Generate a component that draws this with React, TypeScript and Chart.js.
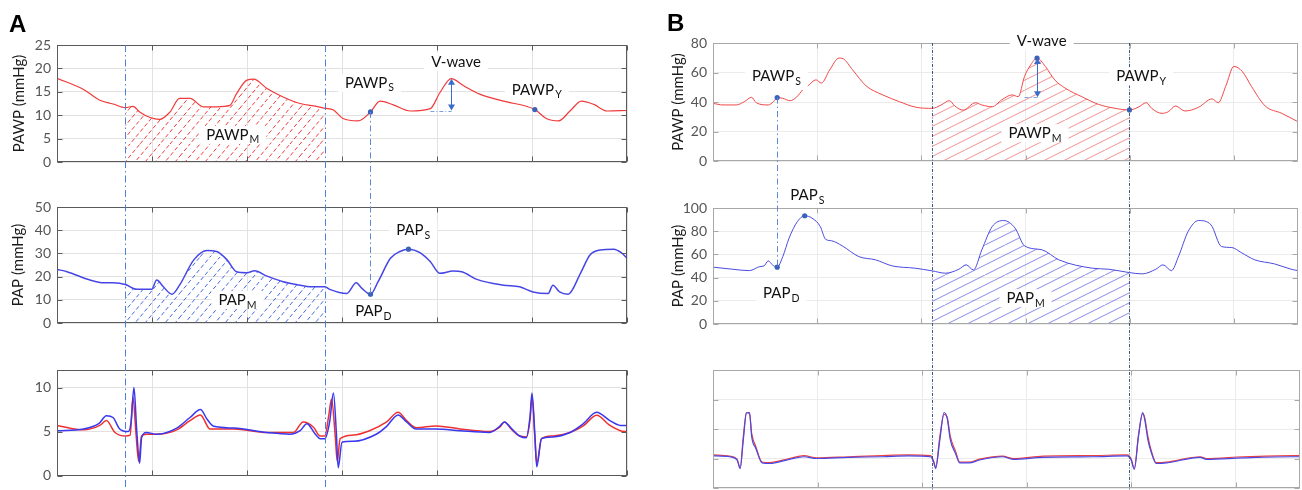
import React, { useEffect, useRef } from "react";
import { Chart, registerables } from "chart.js";

Chart.register(...registerables);

type Pt = [number, number | null];

// ---------------- Panel A data ----------------
const aPawp: Pt[] = [
  [0, 17.9], [0.28, 15.5], [0.45, 13.2], [0.59, 12.4], [0.72, 11.6], [0.8, 11.9], [0.87, 10.7],
  [0.98, 9.5], [1.08, 9.1], [1.19, 10.7], [1.29, 13.6], [1.4, 13.6], [1.54, 11.8], [1.68, 11.8],
  [1.82, 12.1], [1.89, 14.6], [2.0, 17.5], [2.07, 17.7], [2.21, 15.7], [2.38, 13.9], [2.56, 12.5],
  [2.73, 11.9], [2.82, 11.5], [2.91, 11.1], [3.01, 9.3], [3.17, 8.8], [3.3, 10.7], [3.4, 13.0],
  [3.54, 12.2], [3.72, 10.9], [3.93, 11.4], [4.03, 14.8], [4.15, 17.8], [4.28, 16.3], [4.45, 14.5],
  [4.7, 13.0], [5.03, 11.2], [5.15, 9.3], [5.28, 8.8], [5.4, 10.9], [5.52, 13.0], [5.65, 12.3],
  [5.79, 10.9], [6.0, 11.0],
];
const aPap: Pt[] = [
  [0, 23.1], [0.105, 22.1], [0.347, 18.5], [0.49, 17.3], [0.59, 17.3], [0.72, 16.6], [0.84, 14.5],
  [0.996, 14.5], [1.05, 18.5], [1.12, 15.6], [1.21, 12.4], [1.29, 16.3], [1.44, 27.2], [1.58, 31.2],
  [1.68, 30.8], [1.79, 27.2], [1.89, 22.1], [2.0, 21.7], [2.08, 22.5], [2.21, 20.2], [2.38, 17.8],
  [2.56, 16.3], [2.66, 15.6], [2.82, 15.6], [2.87, 14.5], [3.05, 12.7], [3.15, 17.3], [3.21, 14.9],
  [3.3, 12.4], [3.38, 17.8], [3.51, 27.9], [3.61, 30.8], [3.7, 31.8], [3.82, 30.3], [3.93, 26.4],
  [4.03, 21.4], [4.17, 22.4], [4.26, 22.1], [4.42, 18.8], [4.7, 16.3], [4.87, 15.6], [5.01, 13.4],
  [5.17, 12.7], [5.22, 16.3], [5.29, 13.4], [5.38, 12.4], [5.51, 21.4], [5.61, 29.3], [5.72, 31.5],
  [5.86, 31.8], [5.94, 30.3], [6.0, 27.9],
];
const aEcgBlue: Pt[] = [
  [0, 5.1], [0.28, 5.3], [0.44, 5.9], [0.52, 6.8], [0.59, 6.6], [0.66, 5.3], [0.75, 5.0], [0.78, 6.1],
  [0.81, 10.0], [0.84, 5.0], [0.87, 1.4], [0.89, 4.3], [0.94, 4.9], [1.05, 4.7], [1.26, 5.4],
  [1.4, 6.6], [1.51, 7.5], [1.58, 6.4], [1.65, 5.6], [1.86, 5.4], [2.21, 4.9], [2.45, 4.7],
  [2.56, 5.1], [2.63, 5.9], [2.72, 4.7], [2.77, 4.2], [2.82, 4.2], [2.87, 6.1], [2.91, 9.4],
  [2.94, 5.0], [2.96, 0.9], [3.0, 3.8], [3.12, 3.9], [3.36, 4.7], [3.47, 5.6], [3.59, 6.9],
  [3.68, 6.1], [3.78, 5.3], [3.99, 5.3], [4.24, 5.1], [4.55, 4.9], [4.66, 5.6], [4.71, 6.1],
  [4.78, 5.4], [4.87, 4.5], [4.94, 4.3], [4.98, 6.8], [5.0, 9.4], [5.03, 4.7], [5.05, 1.0],
  [5.1, 4.2], [5.22, 4.4], [5.4, 4.9], [5.54, 5.9], [5.68, 7.2], [5.82, 6.25], [5.93, 5.7], [6.0, 5.7],
];
const aEcgRed: Pt[] = [
  [0, 5.7], [0.28, 5.2], [0.45, 5.7], [0.52, 6.25], [0.61, 4.9], [0.72, 4.5], [0.77, 4.6],
  [0.8, 8.9], [0.83, 5.0], [0.86, 1.6], [0.89, 4.5], [0.94, 4.7], [1.05, 4.7], [1.26, 5.2],
  [1.4, 6.25], [1.51, 6.9], [1.61, 5.3], [1.86, 5.3], [2.21, 4.9], [2.49, 4.9], [2.59, 6.1],
  [2.7, 5.5], [2.77, 4.5], [2.82, 4.5], [2.86, 6.8], [2.89, 8.7], [2.93, 4.3], [2.95, 1.6],
  [2.98, 4.2], [3.12, 4.6], [3.29, 5.1], [3.47, 6.1], [3.59, 7.2], [3.68, 6.25], [3.78, 5.45],
  [3.99, 5.65], [4.24, 5.3], [4.55, 5.0], [4.66, 5.5], [4.71, 6.1], [4.78, 5.3], [4.87, 4.5],
  [4.94, 4.4], [4.98, 6.4], [5.0, 9.0], [5.03, 4.3], [5.05, 1.4], [5.1, 4.2], [5.22, 4.5],
  [5.4, 4.9], [5.54, 5.65], [5.68, 6.85], [5.82, 5.7], [5.93, 5.1], [6.0, 5.0],
];
const aPawpMarks: Pt[] = [[3.3, 10.7], [5.03, 11.2]];
const aPapMarks: Pt[] = [[3.3, 12.4], [3.7, 31.8]];
const aMeanSpan = [0.72, 2.82];
const aVWave = { x: 4.15, peak: 17.8, base: 11.0, baseFrom: 3.93 };
const aTopLabels = [
  { x: 3.29, y: 16.9, t: "PAWP", s: "S" },
  { x: 4.2, y: 21.4, t: "V-wave", s: "" },
  { x: 5.05, y: 15.4, t: "PAWP", s: "Y" },
  { x: 1.85, y: 5.8, t: "PAWP", s: "M" },
];
const aMidLabels = [
  { x: 3.75, y: 40, t: "PAP", s: "S" },
  { x: 3.33, y: 5.0, t: "PAP", s: "D" },
  { x: 1.9, y: 9.9, t: "PAP", s: "M" },
];

// ---------------- Panel B data ----------------
const bPawp: Pt[] = [
  [0, 39.1], [0.096, 38], [0.223, 38], [0.3, 40.2], [0.37, 43.2], [0.415, 39.5], [0.53, 38],
  [0.58, 40.2], [0.616, 43], [0.67, 42.5], [0.74, 40.9], [0.8, 43.2], [0.86, 48.2], [0.885, null],
  [0.91, 50.9], [0.99, 55], [1.04, 52.8], [1.12, 61.8], [1.21, 69.8], [1.25, 69.3], [1.34, 61.8],
  [1.47, 50.9], [1.63, 44.8], [1.79, 40.2], [1.95, 36.4], [2.105, 35.7], [2.19, 38], [2.27, 40.9],
  [2.32, 37.3], [2.4, 34.5], [2.52, 39.5], [2.58, 38], [2.68, 36.8], [2.77, 41.4], [2.87, 44.8],
  [2.93, 43.6], [2.99, 57.3], [3.05, 65.2], [3.11, 69.8], [3.19, 64.1], [3.28, 55], [3.38, 49.4],
  [3.54, 43.6], [3.7, 38.4], [3.86, 35.7], [3.997, 34.6], [4.08, 36.4], [4.16, 39.5], [4.21, 35.7],
  [4.31, 32.3], [4.37, 33.4], [4.44, 37.3], [4.53, 33.9], [4.66, 36.4], [4.79, 42.1], [4.85, 39.5],
  [4.92, 50.4], [5.0, 64.1], [5.08, 60.7], [5.17, 50.4], [5.3, 37.3], [5.46, 32.3], [5.615, 26.6],
];
const bPap: Pt[] = [
  [0, 49], [0.19, 47.2], [0.35, 46], [0.45, 49.5], [0.49, 50.1], [0.53, 54.4], [0.57, 51],
  [0.616, 49], [0.67, 58.1], [0.73, 74], [0.81, 88.3], [0.88, 93.3], [0.95, 91.3], [1.03, 84],
  [1.08, 73.1], [1.14, 71.7], [1.24, 67.4], [1.4, 58.1], [1.56, 55.3], [1.72, 50.1], [1.94, 48.1],
  [2.105, 45.8], [2.23, 43.8], [2.36, 47.2], [2.43, 51], [2.5, 46.6], [2.58, 63.9], [2.68, 84],
  [2.79, 89.2], [2.9, 82.6], [2.99, 67.4], [3.16, 63.9], [3.32, 55.3], [3.64, 48.1], [3.8, 47.2],
  [3.997, 44.3], [4.12, 43.2], [4.25, 47.2], [4.32, 51], [4.4, 46], [4.47, 58.7], [4.56, 79.7],
  [4.66, 89.2], [4.78, 85.5], [4.88, 66.8], [4.98, 65.9], [5.07, 61.6], [5.2, 55.3], [5.39, 51.8],
  [5.55, 47.2], [5.615, 46],
];
const bEcgBlue: Pt[] = [
  [0, 1.09], [0.16, 1.06], [0.23, 0.95], [0.26, 0.66], [0.29, 1.63], [0.32, 2.54], [0.35, 2.56],
  [0.37, 1.74], [0.41, 1.34], [0.47, 0.85], [0.54, 0.83], [0.73, 0.97], [0.87, 1.06], [0.99, 1.0],
  [1.3, 1.04], [1.62, 1.06], [1.87, 1.09], [2.08, 1.06], [2.11, 0.89], [2.13, 0.66], [2.17, 1.63],
  [2.21, 2.56], [2.24, 2.37], [2.27, 1.63], [2.32, 1.17], [2.36, 0.85], [2.45, 0.85], [2.55, 0.95],
  [2.77, 1.06], [2.87, 0.97], [3.16, 1.04], [3.64, 1.06], [3.96, 1.09], [4.0, 0.95], [4.03, 0.63],
  [4.07, 1.74], [4.11, 2.56], [4.13, 2.31], [4.16, 1.63], [4.19, 1.23], [4.24, 0.83], [4.34, 0.85],
  [4.66, 1.04], [4.72, 0.97], [5.07, 1.02], [5.55, 1.06], [5.615, 1.06],
];
const bEcgRed: Pt[] = [
  [0, 1.12], [0.16, 1.08], [0.23, 0.98], [0.26, 0.68], [0.29, 1.75], [0.32, 2.56], [0.35, 2.5],
  [0.37, 1.85], [0.41, 1.4], [0.47, 0.88], [0.54, 0.86], [0.73, 1.0], [0.87, 1.1], [0.99, 1.02],
  [1.3, 1.06], [1.62, 1.1], [1.87, 1.12], [2.08, 1.1], [2.11, 0.92], [2.13, 0.7], [2.17, 1.75],
  [2.21, 2.5], [2.24, 2.4], [2.27, 1.75], [2.32, 1.25], [2.36, 0.88], [2.45, 0.88], [2.55, 0.98],
  [2.77, 1.08], [2.87, 1.0], [3.16, 1.08], [3.64, 1.1], [3.96, 1.12], [4.0, 0.98], [4.03, 0.66],
  [4.07, 1.8], [4.11, 2.52], [4.13, 2.38], [4.16, 1.75], [4.19, 1.3], [4.24, 0.86], [4.34, 0.88],
  [4.66, 1.06], [4.72, 1.0], [5.07, 1.06], [5.55, 1.1], [5.615, 1.1],
];
const bPawpMarks: Pt[] = [[0.616, 43], [3.11, 69.8], [3.997, 34.6]];
const bPapMarks: Pt[] = [[0.616, 49], [0.88, 93.3]];
const bMeanSpan = [2.105, 3.997];
const bVWave = { x: 3.11, peak: 69.8, base: 43.2, baseFrom: 2.99 };
const bTopLabels = [
  { x: 0.61, y: 57.3, t: "PAWP", s: "S" },
  { x: 3.155, y: 81.1, t: "V-wave", s: "" },
  { x: 4.11, y: 57.3, t: "PAWP", s: "Y" },
  { x: 3.09, y: 18.8, t: "PAWP", s: "M" },
];
const bMidLabels = [
  { x: 0.906, y: 110.8, t: "PAP", s: "S" },
  { x: 0.655, y: 26.5, t: "PAP", s: "D" },
  { x: 3.0, y: 22.2, t: "PAP", s: "M" },
];

// axis ranges: [xMax, yMax, yStep]
const aTopAxis = [6, 25, 5];
const aMidAxis = [6, 50, 10];
const aBotAxis = [6, 12, 5];
const bTopAxis = [5.615, 80, 20];
const bMidAxis = [5.615, 100, 20];
const bBotAxis = [5.615, 4, 1];

// ---------------- styling / layout ----------------
const FONT = "Lato, 'Open Sans', sans-serif";
const MARK = "#3a62b8";
const W = 1302;
const H = 490;

type LineSpec = { data: Pt[]; color: string; width: number; order: number };
type Spec = {
  key: string;
  canvas: [number, number, number, number];
  plot: [number, number, number, number];
  axis: number[];
  yLabels: boolean;
  title?: string;
  titlePad?: number;
  box: string;
  grid: string;
  lines: LineSpec[];
  hatch?: { data: Pt[]; span: number[]; kind: string };
  marks?: Pt[];
};

const specs: Spec[] = [
  {
    key: "aTop", canvas: [0, 0, 645, 185], plot: [57, 45, 627, 162], axis: aTopAxis, yLabels: true,
    title: "PAWP (mmHg)", titlePad: 10, box: "#5a5a5a", grid: "#e2e2e2",
    lines: [{ data: aPawp, color: "#f03a3a", width: 1.2, order: 1 }],
    hatch: { data: aPawp, span: aMeanSpan, kind: "aRed" }, marks: aPawpMarks,
  },
  {
    key: "aMid", canvas: [0, 185, 645, 162], plot: [57, 207, 627, 323], axis: aMidAxis, yLabels: true,
    title: "PAP (mmHg)", titlePad: 9, box: "#5a5a5a", grid: "#e2e2e2",
    lines: [{ data: aPap, color: "#4646e6", width: 1.5, order: 1 }],
    hatch: { data: aPap, span: aMeanSpan, kind: "aBlue" }, marks: aPapMarks,
  },
  {
    key: "aBot", canvas: [0, 347, 645, 143], plot: [57, 370, 627, 485], axis: aBotAxis, yLabels: true,
    box: "#5a5a5a", grid: "#e2e2e2",
    lines: [
      { data: aEcgRed, color: "#ee3030", width: 1.5, order: 2 },
      { data: aEcgBlue, color: "#3838f0", width: 1.5, order: 1 },
    ],
  },
  {
    key: "bTop", canvas: [645, 0, 657, 185], plot: [713, 43, 1300, 161], axis: bTopAxis, yLabels: true,
    title: "PAWP (mmHg)", titlePad: 24, box: "#a8a8a8", grid: "#ebebeb",
    lines: [{ data: bPawp, color: "#f04848", width: 1, order: 1 }],
    hatch: { data: bPawp, span: bMeanSpan, kind: "bRed" }, marks: bPawpMarks,
  },
  {
    key: "bMid", canvas: [645, 185, 657, 162], plot: [713, 208, 1300, 324], axis: bMidAxis, yLabels: true,
    title: "PAP (mmHg)", titlePad: 24, box: "#a8a8a8", grid: "#ebebeb",
    lines: [{ data: bPap, color: "#4a4ae0", width: 1, order: 1 }],
    hatch: { data: bPap, span: bMeanSpan, kind: "bBlue" }, marks: bPapMarks,
  },
  {
    key: "bBot", canvas: [645, 347, 657, 143], plot: [713, 370, 1300, 488], axis: bBotAxis, yLabels: false,
    box: "#a8a8a8", grid: "#ebebeb",
    lines: [
      { data: bEcgRed, color: "#e84040", width: 1.2, order: 2 },
      { data: bEcgBlue, color: "#4848e8", width: 1.2, order: 1 },
    ],
  },
];

// Diagonal hatch tile: lines rising left->right across a tw x th tile, spaced `sp` px horizontally.
function makeHatch(color: string, tw: number, th: number, sp: number, dashed: boolean, lw: number) {
  const c = document.createElement("canvas");
  c.width = tw;
  c.height = th;
  const g = c.getContext("2d")!;
  g.strokeStyle = color;
  g.lineWidth = lw;
  g.lineCap = "butt";
  const L = Math.hypot(tw, th);
  const period = L / 14;
  let k = 0;
  for (let x = -tw; x <= tw; x += sp) {
    if (dashed) {
      g.setLineDash([period * 0.62, period * 0.38]);
      g.lineDashOffset = ((k * 0.37) % 1) * period;
    }
    g.beginPath();
    g.moveTo(x, th);
    g.lineTo(x + tw, 0);
    g.stroke();
    k++;
  }
  return g.createPattern(c, "repeat")!;
}

function buildChart(canvas: HTMLCanvasElement, s: Spec, patterns: Record<string, CanvasPattern>) {
  const [cl, ct, cw, ch] = s.canvas;
  const [pl, pt, pr, pb] = s.plot;
  const [xMax, yMax, yStep] = s.axis;
  const datasets: any[] = [];
  s.lines.forEach((ln) =>
    datasets.push({
      data: ln.data.map(([x, y]) => ({ x, y })),
      borderColor: ln.color,
      borderWidth: ln.width,
      pointRadius: 0,
      fill: false,
      cubicInterpolationMode: "monotone",
      spanGaps: false,
      order: ln.order,
    })
  );
  if (s.hatch) {
    const [from, to] = s.hatch.span;
    datasets.push({
      data: s.hatch.data
        .filter(([x, y]) => x >= from && x <= to && y !== null)
        .map(([x, y]) => ({ x, y })),
      borderWidth: 0,
      borderColor: "rgba(0,0,0,0)",
      backgroundColor: patterns[s.hatch.kind],
      fill: "origin",
      pointRadius: 0,
      cubicInterpolationMode: "monotone",
      order: 10,
    });
  }
  if (s.marks) {
    datasets.push({
      data: s.marks.map(([x, y]) => ({ x, y })),
      showLine: false,
      pointRadius: 2.6,
      pointBackgroundColor: MARK,
      pointBorderColor: MARK,
      pointBorderWidth: 0,
      order: 0,
    });
  }
  const boxPlugin = {
    id: "box" + s.key,
    afterDatasetsDraw(chart: any) {
      const { ctx, chartArea: a, scales } = chart;
      ctx.save();
      ctx.strokeStyle = s.box;
      ctx.lineWidth = 1;
      const L = Math.round(a.left) + 0.5;
      const T = Math.round(a.top) + 0.5;
      const R = Math.round(a.right) - 0.5;
      const B = Math.round(a.bottom) - 0.5;
      ctx.strokeRect(L, T, R - L, B - T);
      ctx.beginPath();
      scales.x.ticks.forEach((t: any) => {
        const x = Math.round(scales.x.getPixelForValue(t.value)) + 0.5;
        ctx.moveTo(x, B);
        ctx.lineTo(x, B - 5);
        ctx.moveTo(x, T);
        ctx.lineTo(x, T + 5);
      });
      scales.y.ticks.forEach((t: any) => {
        const y = Math.round(scales.y.getPixelForValue(t.value)) + 0.5;
        ctx.moveTo(L, y);
        ctx.lineTo(L + 5, y);
        ctx.moveTo(R, y);
        ctx.lineTo(R - 5, y);
      });
      ctx.stroke();
      ctx.restore();
    },
  };
  return new Chart(canvas, {
    type: "line",
    data: { datasets },
    options: {
      responsive: false,
      animation: false,
      events: [],
      plugins: { legend: { display: false }, tooltip: { enabled: false } },
      layout: { padding: { left: 0, top: pt - ct, right: cl + cw - pr, bottom: ct + ch - pb } },
      scales: {
        x: {
          type: "linear",
          min: 0,
          max: xMax,
          ticks: { display: false, stepSize: 1, includeBounds: false },
          grid: { color: s.grid, drawTicks: false, lineWidth: 1 },
          border: { display: false },
          afterFit: (sc: any) => {
            sc.height = 0;
          },
        },
        y: {
          type: "linear",
          min: 0,
          max: yMax,
          ticks: {
            display: s.yLabels,
            stepSize: yStep,
            includeBounds: false,
            padding: 6,
            color: "#555",
            font: { family: FONT, size: 14 },
          },
          grid: { color: s.grid, drawTicks: false, lineWidth: 1 },
          border: { display: false },
          title: {
            display: !!s.title,
            text: s.title || "",
            color: "#1a1a1a",
            font: { family: FONT, size: 15 },
            padding: { top: s.titlePad || 0, bottom: 0 },
          },
          afterFit: (sc: any) => {
            sc.width = pl - cl;
          },
        },
      },
    } as any,
    plugins: [boxPlugin],
  });
}

function drawLabel(ctx: CanvasRenderingContext2D, cx: number, cy: number, main: string, sub: string) {
  ctx.font = `15px ${FONT}`;
  const w1 = ctx.measureText(main).width;
  ctx.font = `10.5px ${FONT}`;
  const w2 = sub ? ctx.measureText(sub).width + 1 : 0;
  const w = w1 + w2;
  ctx.fillStyle = "#ffffff";
  ctx.fillRect(cx - w / 2 - 7, cy - 9, w + 14, 18);
  ctx.fillStyle = "#111";
  ctx.textAlign = "left";
  ctx.textBaseline = "alphabetic";
  ctx.font = `15px ${FONT}`;
  ctx.fillText(main, cx - w / 2, cy + 5);
  if (sub) {
    ctx.font = `10.5px ${FONT}`;
    ctx.fillText(sub, cx - w / 2 + w1 + 1, cy + 8.5);
  }
}

function arrowHead(ctx: CanvasRenderingContext2D, x: number, y: number, dir: number) {
  ctx.beginPath();
  ctx.moveTo(x, y);
  ctx.lineTo(x - 3.5, y - dir * 6);
  ctx.lineTo(x + 3.5, y - dir * 6);
  ctx.closePath();
  ctx.fill();
}

export default function App() {
  const refs = useRef<(HTMLCanvasElement | null)[]>([]);
  const overlay = useRef<HTMLCanvasElement | null>(null);

  useEffect(() => {
    const patterns: Record<string, CanvasPattern> = {
      aRed: makeHatch("#f03c3c", 60, 72, 10, true, 1),
      aBlue: makeHatch("#4468e0", 60, 72, 10, true, 1),
      bRed: makeHatch("#f07474", 60, 30, 20, false, 0.8),
      bBlue: makeHatch("#6c6ce8", 60, 30, 20, false, 0.8),
    };
    const charts: Record<string, Chart> = {};
    specs.forEach((s, i) => {
      const c = refs.current[i];
      if (c) charts[s.key] = buildChart(c, s, patterns);
    });
    const sp: Record<string, Spec> = {};
    specs.forEach((s) => (sp[s.key] = s));
    const PX = (k: string, x: number) => sp[k].canvas[0] + (charts[k].scales.x as any).getPixelForValue(x);
    const PY = (k: string, y: number) => sp[k].canvas[1] + (charts[k].scales.y as any).getPixelForValue(y);
    const TOP = (k: string) => sp[k].canvas[1] + charts[k].chartArea.top;

    const ctx = overlay.current!.getContext("2d")!;
    ctx.clearRect(0, 0, W, H);

    // panel letters
    ctx.fillStyle = "#000";
    ctx.font = "bold 24px 'Liberation Sans', Arial, sans-serif";
    ctx.textBaseline = "alphabetic";
    ctx.fillText("A", 9, 32);
    ctx.fillText("B", 667, 31);

    // long vertical dash-dot lines
    ctx.lineWidth = 1;
    ctx.strokeStyle = "#4f7fd6";
    ctx.setLineDash([7, 3, 1.5, 3]);
    aMeanSpan.forEach((x) => {
      const px = Math.round(PX("aTop", x)) + 0.5;
      ctx.beginPath();
      ctx.moveTo(px, TOP("aTop"));
      ctx.lineTo(px, H);
      ctx.stroke();
    });
    ctx.strokeStyle = "#3d5785";
    ctx.setLineDash([3, 1.5, 1, 1.5]);
    bMeanSpan.forEach((x) => {
      const px = Math.round(PX("bTop", x)) + 0.5;
      ctx.beginPath();
      ctx.moveTo(px, TOP("bTop"));
      ctx.lineTo(px, H);
      ctx.stroke();
    });
    // PAWP_S -> PAP_D connectors
    ctx.strokeStyle = "#5b8ad6";
    ctx.setLineDash([6, 3, 1.5, 3]);
    const conn = (top: string, mid: string, a: Pt, b: Pt) => {
      const px = Math.round(PX(top, a[0])) + 0.5;
      ctx.beginPath();
      ctx.moveTo(px, PY(top, a[1] as number));
      ctx.lineTo(px, PY(mid, b[1] as number));
      ctx.stroke();
    };
    conn("aTop", "aMid", aPawpMarks[0], aPapMarks[0]);
    conn("bTop", "bMid", bPawpMarks[0], bPapMarks[0]);

    // V-wave arrows
    const vwave = (k: string, v: { x: number; peak: number; base: number; baseFrom: number }) => {
      const x = Math.round(PX(k, v.x)) + 0.5;
      const y1 = PY(k, v.peak);
      const y2 = PY(k, v.base);
      ctx.strokeStyle = "#7fa3e0";
      ctx.setLineDash([4, 2, 1, 2]);
      ctx.beginPath();
      ctx.moveTo(PX(k, v.baseFrom), Math.round(y2) + 0.5);
      ctx.lineTo(x, Math.round(y2) + 0.5);
      ctx.stroke();
      ctx.setLineDash([]);
      ctx.strokeStyle = "#3b6cc8";
      ctx.fillStyle = "#3b6cc8";
      ctx.beginPath();
      ctx.moveTo(x, y1 + 4);
      ctx.lineTo(x, y2 - 4);
      ctx.stroke();
      arrowHead(ctx, x, y1, -1);
      arrowHead(ctx, x, y2, 1);
    };
    vwave("aTop", aVWave);
    vwave("bTop", bVWave);
    ctx.setLineDash([]);

    // text labels
    const put = (k: string, list: { x: number; y: number; t: string; s: string }[]) =>
      list.forEach((l) => drawLabel(ctx, PX(k, l.x), PY(k, l.y), l.t, l.s));
    put("aTop", aTopLabels);
    put("aMid", aMidLabels);
    put("bTop", bTopLabels);
    put("bMid", bMidLabels);

    return () => {
      Object.values(charts).forEach((c) => c.destroy());
    };
  }, []);

  return (
    <div style={{ position: "absolute", left: 0, top: 0, width: W, height: H, background: "#fff", overflow: "hidden" }}>
      {specs.map((s, i) => (
        <canvas
          key={s.key}
          ref={(el) => {
            refs.current[i] = el;
          }}
          width={s.canvas[2]}
          height={s.canvas[3]}
          style={{ position: "absolute", left: s.canvas[0], top: s.canvas[1], width: s.canvas[2], height: s.canvas[3] }}
        />
      ))}
      <canvas
        ref={overlay}
        width={W}
        height={H}
        style={{ position: "absolute", left: 0, top: 0, width: W, height: H, pointerEvents: "none" }}
      />
    </div>
  );
}
